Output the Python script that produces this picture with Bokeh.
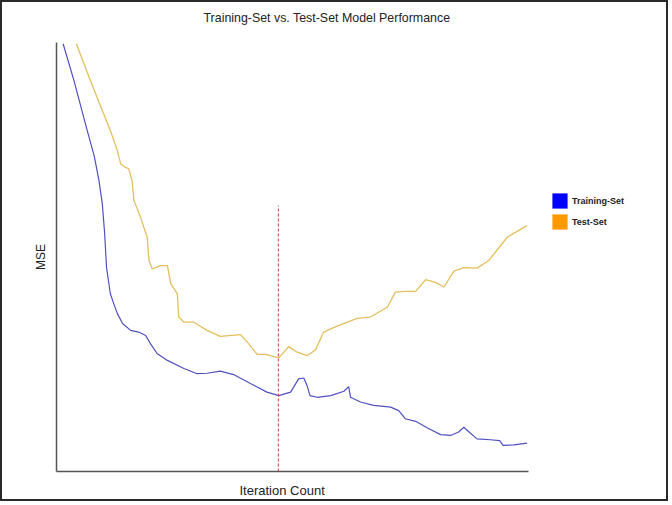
from bokeh.plotting import figure
from bokeh.models import Range1d, Legend, LegendItem, FixedTicker, Title
from bokeh.embed import file_html
from bokeh.resources import INLINE

nan = float("nan")

# Training-set MSE curve (iteration 0-100, MSE scaled 0-100)
train_x = [1.4, 3.7, 6.5, 8.0, 9.0, 9.7, 10.2, 10.6, 11.4, 12.1, 12.9, 14.0, 15.7, 17.4, 18.9,
           19.9, 21.3, 23.5, 27.0, 29.8, 31.9, 34.7, 37.5, 41.1, 44.6, 47.1, 49.6, 51.3, 52.4,
           53.1, 53.7, 55.2, 58.1, 60.9, 61.9, 62.3, 64.4, 67.2, 70.8, 72.5, 73.9, 76.1,
           78.5, 81.4, 83.5, 85.2, 86.3, 87.4, 89.1, 91.9, 93.9, 94.6, 96.9, 99.7]
train_y = [99.7, 91.1, 79.5, 73.5, 67.8, 62.5, 55.5, 47.6, 41.5, 39.2, 36.8, 34.5, 32.9, 32.5,
           31.7, 29.8, 27.5, 25.9, 24.0, 22.8, 22.9, 23.4, 22.6, 20.5, 18.5, 17.7, 18.5,
           21.6, 21.8, 20.0, 17.7, 17.3, 17.7, 18.7, 19.8, 17.3, 16.2, 15.4, 15.0, 14.2,
           12.3, 11.7, 10.2, 8.6, 8.4, 9.2, 10.3, 9.2, 7.6, 7.4, 7.2, 6.1, 6.2, 6.6]

# Test-set MSE curve
test_x = [4.2, 7.2, 11.4, 12.9, 13.6, 14.6, 15.3, 16.0, 16.4, 17.8, 19.2, 19.6, 20.3, 22.0,
          23.5, 24.2, 25.6, 25.9, 27.0, 29.1, 31.9, 34.7, 39.0, 40.7, 42.5, 44.3, 47.1,
          49.2, 51.0, 53.1, 54.9, 56.6, 58.8, 61.6, 63.7, 66.5, 70.1, 71.8, 73.9, 76.1,
          78.2, 80.3, 82.1, 84.2, 86.3, 89.1, 91.6, 95.5, 99.7]
test_y = [99.7, 91.1, 79.5, 74.8, 71.7, 70.9, 70.6, 67.8, 63.2, 59.3, 54.6, 49.2, 47.2, 48.0,
          48.0, 43.8, 41.4, 36.0, 34.8, 34.8, 32.9, 31.5, 31.9, 29.8, 27.3, 27.3, 26.5,
          29.1, 27.8, 27.0, 28.4, 32.5, 33.6, 34.8, 35.7, 36.0, 38.3, 41.8, 42.0, 42.0,
          44.7, 44.1, 43.0, 46.7, 47.5, 47.4, 49.2, 54.6, 57.3]

# Optimal stopping point
stop_x = 47.0
stop_top = 62.0

series_names = ["Training-Set", "Test-Set"]
legend_colors = ["#0000ff", "#ff9900"]
line_colors = ["#5050c0", "#e4bf5c"]

# frame extends to the right so the legend can sit inside it; axes are bounded to 0-100
p = figure(width=668, height=501, output_backend="svg", toolbar_location=None,
           x_range=Range1d(0, 129.24), y_range=Range1d(0, 100),
           min_border_left=54, min_border_right=4, min_border_top=40, min_border_bottom=32)
p.styles = {"border": "2px solid #2a2a2a"}
p.outline_line_color = None
p.grid.visible = False

# spacing panel between the frame and the main title
p.add_layout(Title(text=" ", text_font_size="1px", standoff=15), "above")

p.title.text = "Training-Set vs. Test-Set Model Performance"
p.title.text_font = "Liberation Sans"
p.title.text_font_size = "12.4px"
p.title.text_font_style = "normal"
p.title.text_color = "#222222"
p.title.align = "left"
p.title.offset = 147
p.title.standoff = 0

for ax in (p.xaxis[0], p.yaxis[0]):
    ax.ticker = FixedTicker(ticks=[])
    ax.major_tick_line_color = None
    ax.minor_tick_line_color = None
    ax.major_label_text_font_size = "0px"
    ax.axis_line_color = "#555555"
    ax.axis_line_width = 1.5
    ax.bounds = (0, 100)

p.yaxis.axis_label = "MSE"
p.yaxis.axis_label_text_font = "Liberation Sans"
p.yaxis.axis_label_text_font_style = "normal"
p.yaxis.axis_label_text_color = "#222222"
p.yaxis.axis_label_text_font_size = "12px"
p.yaxis.axis_label_standoff = 9

# x-axis label, centred under the bounded axis (after a small spacing panel)
p.add_layout(Title(text=" ", text_font_size="1px", standoff=8), "below")
p.add_layout(Title(text="Iteration Count", text_font="Liberation Sans", text_font_size="13px",
                   text_font_style="normal", text_color="#222222", align="left",
                   offset=183, vertical_align="top", standoff=0), "below")

p.line(train_x, train_y, line_color=line_colors[0], line_width=1.2)
p.line(test_x, test_y, line_color=line_colors[1], line_width=1.3)
p.segment(x0=[stop_x], y0=[0], x1=[stop_x], y1=[stop_top], line_color="#d03a3a",
          line_width=1, line_dash="3 2")

# legend proxies (not drawn in the plot area)
r_train = p.quad(left=[nan], right=[nan], top=[nan], bottom=[nan],
                 fill_color=legend_colors[0], line_color=None)
r_test = p.quad(left=[nan], right=[nan], top=[nan], bottom=[nan],
                fill_color=legend_colors[1], line_color=None)

legend = Legend(items=[LegendItem(label=series_names[0], renderers=[r_train]),
                       LegendItem(label=series_names[1], renderers=[r_test])],
                location=(494, 240), border_line_color=None, background_fill_alpha=0,
                padding=0, margin=0, glyph_width=19, glyph_height=19, spacing=2,
                label_standoff=3, label_text_font="Liberation Sans",
                label_text_font_size="9px", label_text_font_style="bold",
                label_text_color="#222222", label_height=19)
p.add_layout(legend)

open("out.html", "w").write(file_html(p, INLINE))
